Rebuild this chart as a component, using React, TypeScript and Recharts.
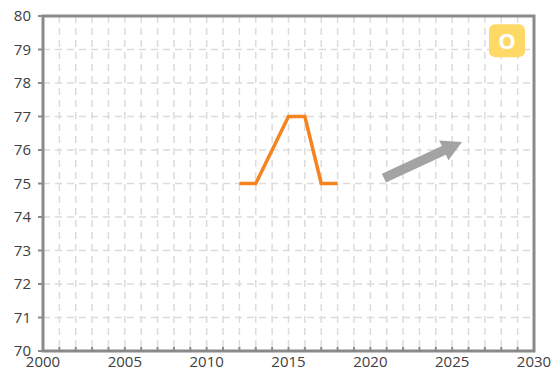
import React from "react";
import { LineChart, Line, XAxis, YAxis, CartesianGrid, ReferenceLine, ReferenceArea, ReferenceDot } from "recharts";

const years = [2012, 2013, 2015, 2016, 2017, 2018];
const values = [75, 75, 77, 77, 75, 75];
const xTicks = Array.from({ length: 31 }, (_, i) => 2000 + i);
const yTicks = [70, 71, 72, 73, 74, 75, 76, 77, 78, 79, 80];
const arrowStart = { x: 2020.83, y: 75.16 };
const arrowEnd = { x: 2025.6, y: 76.24 };
const badgePos = { x: 2028.35, y: 79.25 };
const badgeLabel = "O";

const data = years.map((y, i) => ({ year: y, value: values[i] }));

const AXIS = "#8a8a8a";
const FONT = "'Open Sans', 'Noto Sans', sans-serif";

const XTick = (props: any) => {
  const { x, y, payload } = props;
  const v = payload.value;
  return (
    <g>
      <line x1={x} x2={x} y1={y} y2={y - 4} stroke={AXIS} strokeWidth={2} />
      {v % 5 === 0 && (
        <text x={x} y={y + 16} textAnchor="middle" fontSize={15} fill="#404040" fontFamily={FONT}>
          {v}
        </text>
      )}
    </g>
  );
};

const YTick = (props: any) => {
  const { x, y, payload } = props;
  return (
    <g>
      <line x1={x} x2={x - 5} y1={y} y2={y} stroke={AXIS} strokeWidth={2} />
      <text x={x - 12} y={y + 5} textAnchor="end" fontSize={15} fill="#404040" fontFamily={FONT}>
        {payload.value}
      </text>
    </g>
  );
};

const ArrowShape = (props: any) => {
  const { x1, y1, x2, y2 } = props;
  if ([x1, y1, x2, y2].some((v) => typeof v !== "number" || isNaN(v))) return null;
  const dx = x2 - x1;
  const dy = y2 - y1;
  const len = Math.sqrt(dx * dx + dy * dy);
  const ux = dx / len;
  const uy = dy / len;
  const px = -uy;
  const py = ux;
  const headLen = 20;
  const headW = 11;
  const shaftW = 4.8;
  const bx = x2 - ux * headLen;
  const by = y2 - uy * headLen;
  const pts = [
    [x1 + px * shaftW, y1 + py * shaftW],
    [bx + px * shaftW, by + py * shaftW],
    [bx + px * headW, by + py * headW],
    [x2, y2],
    [bx - px * headW, by - py * headW],
    [bx - px * shaftW, by - py * shaftW],
    [x1 - px * shaftW, y1 - py * shaftW],
  ]
    .map((p) => p.join(","))
    .join(" ");
  return <polygon points={pts} fill="#a3a3a3" />;
};

const Badge = (props: any) => {
  const { cx, cy } = props;
  if (typeof cx !== "number" || typeof cy !== "number") return null;
  return (
    <g>
      <rect x={cx - 18} y={cy - 17} width={36} height={33} rx={6} fill="#ffd966" />
      <text x={cx} y={cy + 8} textAnchor="middle" fontSize={22} fontWeight="bold" fill="#ffffff" fontFamily={FONT}>
        {badgeLabel}
      </text>
    </g>
  );
};

export default function App() {
  return (
    <div style={{ position: "absolute", left: 0, top: 0 }}>
      <LineChart width={552} height={371} data={data} margin={{ top: 16, right: 18, bottom: 0, left: 13 }}>
        <CartesianGrid stroke="#dcdcdc" strokeWidth={1.5} strokeDasharray="7 5" />
        <XAxis
          dataKey="year"
          type="number"
          domain={[2000, 2030]}
          ticks={xTicks}
          interval={0}
          tick={<XTick />}
          tickLine={false}
          tickSize={0}
          tickMargin={0}
          height={20}
          axisLine={false}
        />
        <YAxis
          type="number"
          domain={[70, 80]}
          ticks={yTicks}
          interval={0}
          tick={<YTick />}
          tickLine={false}
          tickSize={0}
          tickMargin={0}
          width={30}
          axisLine={false}
        />
        <ReferenceArea x1={2000} x2={2030} y1={70} y2={80} fill="none" stroke={AXIS} strokeWidth={3} />
        <Line
          dataKey="value"
          stroke="#f5841f"
          strokeWidth={3.5}
          dot={false}
          isAnimationActive={false}
          type="linear"
        />
        <ReferenceLine
          segment={[arrowStart, arrowEnd]}
          shape={<ArrowShape />}
          ifOverflow="visible"
        />
        <ReferenceDot x={badgePos.x} y={badgePos.y} shape={<Badge />} ifOverflow="visible" />
      </LineChart>
    </div>
  );
}
